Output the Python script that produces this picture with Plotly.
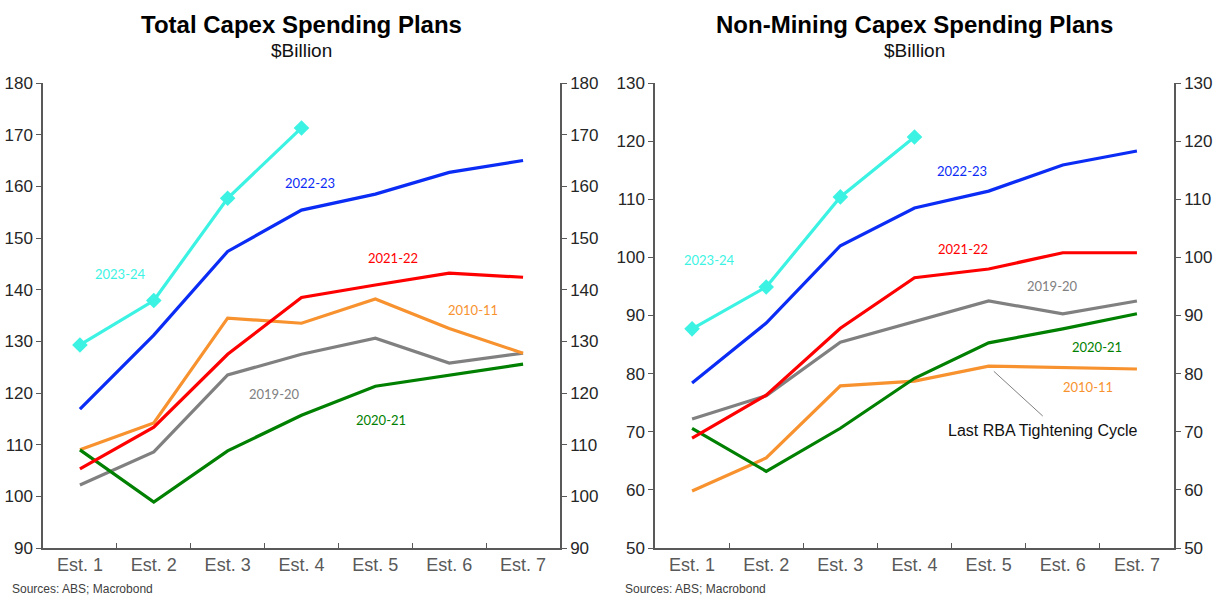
import plotly.graph_objects as go

categories = ["Est. 1", "Est. 2", "Est. 3", "Est. 4", "Est. 5", "Est. 6", "Est. 7"]

# Total capex ($bn)
total_2023_24 = [129.3, 137.9, 157.7, 171.3]
total_2022_23 = [116.9, 131.2, 147.4, 155.4, 158.5, 162.7, 165.0]
total_2021_22 = [105.3, 113.4, 127.5, 138.5, 140.9, 143.2, 142.4]
total_2010_11 = [109.0, 114.2, 134.5, 133.5, 138.2, 132.5, 127.7]
total_2019_20 = [102.2, 108.6, 123.5, 127.5, 130.6, 125.8, 127.7]
total_2020_21 = [109.0, 98.9, 108.8, 115.7, 121.3, 123.5, 125.6]

# Non-mining capex ($bn)
nm_2023_24 = [87.7, 94.9, 110.4, 120.7]
nm_2022_23 = [78.4, 88.7, 102.0, 108.5, 111.4, 115.9, 118.3]
nm_2021_22 = [68.9, 76.3, 87.8, 96.5, 98.0, 100.8, 100.8]
nm_2019_20 = [72.2, 76.2, 85.4, 88.9, 92.5, 90.3, 92.5]
nm_2020_21 = [70.6, 63.2, 70.6, 79.2, 85.3, 87.7, 90.3]
nm_2010_11 = [59.8, 65.5, 77.9, 78.7, 81.3, 81.1, 80.8]

colors = {
    "2023-24": "#3CF3E3",
    "2022-23": "#0A2CF5",
    "2021-22": "#FF0000",
    "2010-11": "#F7922F",
    "2019-20": "#808080",
    "2020-21": "#008000",
}

left_series = [("2019-20", total_2019_20), ("2010-11", total_2010_11), ("2020-21", total_2020_21),
               ("2021-22", total_2021_22), ("2022-23", total_2022_23), ("2023-24", total_2023_24)]
right_series = [("2019-20", nm_2019_20), ("2010-11", nm_2010_11), ("2020-21", nm_2020_21),
                ("2021-22", nm_2021_22), ("2022-23", nm_2022_23), ("2023-24", nm_2023_24)]

fig = go.Figure()

for xa, ya, series in [("x", "y", left_series), ("x2", "y2", right_series)]:
    for name, vals in series:
        cyan = name == "2023-24"
        fig.add_trace(go.Scatter(
            x=categories[:len(vals)], y=vals, xaxis=xa, yaxis=ya,
            mode="lines+markers" if cyan else "lines",
            line=dict(color=colors[name], width=3.2),
            marker=dict(symbol="diamond", size=12, color=colors[name]) if cyan else None,
            name=name, showlegend=False, hoverinfo="skip"))

# invisible traces to activate right-side mirror axes
fig.add_trace(go.Scatter(x=categories, y=[None]*7, xaxis="x", yaxis="y3", showlegend=False, hoverinfo="skip"))
fig.add_trace(go.Scatter(x=categories, y=[None]*7, xaxis="x2", yaxis="y4", showlegend=False, hoverinfo="skip"))

W, H = 1216, 596
dl = [43 / W, 560 / W]
dr = [655 / W, 1174 / W]
dy = [1 - 548 / H, 1 - 83 / H]

axcol = "#595959"
tickfont_y = dict(family="Liberation Sans, Arial", size=17, color="#262626")
tickfont_x = dict(family="Liberation Sans, Arial", size=18, color="#595959")

xcommon = dict(type="category", range=[-0.5, 6.5], showgrid=False, zeroline=False,
               showline=True, linecolor=axcol, linewidth=1.5, ticks="inside", tickson="boundaries",
               ticklen=5, tickcolor=axcol, tickfont=tickfont_x, fixedrange=True)
ycommon = dict(showgrid=False, zeroline=False, showline=True, linecolor=axcol, linewidth=1.5,
               ticks="outside", ticklen=5, tickcolor=axcol, tickfont=tickfont_y, dtick=10)

fig.update_layout(
    width=W, height=H, margin=dict(l=0, r=0, t=0, b=0, autoexpand=False),
    paper_bgcolor="white", plot_bgcolor="white", showlegend=False,
    xaxis=dict(domain=dl, anchor="y", **xcommon),
    xaxis2=dict(domain=dr, anchor="y2", **xcommon),
    yaxis=dict(domain=dy, anchor="x", range=[90, 180], side="left", **ycommon),
    yaxis2=dict(domain=dy, anchor="x2", range=[50, 130], side="left", **ycommon),
    yaxis3=dict(domain=dy, anchor="x", overlaying="y", range=[90, 180], side="right", **ycommon),
    yaxis4=dict(domain=dy, anchor="x2", overlaying="y2", range=[50, 130], side="right", **ycommon),
)

lab_font = "Lato, Carlito, sans-serif"
labels_left = [("2023-24", 0.55, 143.0), ("2022-23", 3.11, 160.6), ("2021-22", 4.24, 146.1),
               ("2010-11", 5.32, 136.0), ("2019-20", 2.64, 119.8), ("2020-21", 4.07, 114.8)]
labels_right = [("2023-24", 0.23, 99.5), ("2022-23", 3.64, 114.9), ("2021-22", 3.66, 101.4),
                ("2019-20", 4.86, 95.1), ("2020-21", 5.46, 84.6), ("2010-11", 5.34, 77.7)]

for name, xi, yv in labels_left:
    fig.add_annotation(x=xi, y=yv, xref="x", yref="y", text=name, showarrow=False,
                       xanchor="center", yanchor="middle",
                       font=dict(family=lab_font, size=13, color=colors[name]))
for name, xi, yv in labels_right:
    fig.add_annotation(x=xi, y=yv, xref="x2", yref="y2", text=name, showarrow=False,
                       xanchor="center", yanchor="middle",
                       font=dict(family=lab_font, size=13, color=colors[name]))

fig.add_annotation(x=4.73, y=70.3, xref="x2", yref="y2", text="Last RBA Tightening Cycle",
                   showarrow=False, xanchor="center", yanchor="middle",
                   font=dict(family="Liberation Sans, Arial", size=16, color="#111111"))
fig.add_shape(type="line", xref="x2", yref="y2", x0=4.07, y0=80.4, x1=4.73, y1=72.7,
              line=dict(color="#808080", width=1))

for cx, title in [((dl[0] + dl[1]) / 2, "Total Capex Spending Plans"),
                  ((dr[0] + dr[1]) / 2, "Non-Mining Capex Spending Plans")]:
    fig.add_annotation(x=cx, y=1 - 25 / H, xref="paper", yref="paper", text="<b>" + title + "</b>",
                       showarrow=False, xanchor="center", yanchor="middle",
                       font=dict(family="Liberation Sans, Arial", size=24, color="#000000"))
    fig.add_annotation(x=cx, y=1 - 51 / H, xref="paper", yref="paper", text="$Billion",
                       showarrow=False, xanchor="center", yanchor="middle",
                       font=dict(family="Liberation Sans, Arial", size=19, color="#111111"))

for sx in [10 / W, 623 / W]:
    fig.add_annotation(x=sx, y=1 - 589 / H, xref="paper", yref="paper", text="Sources: ABS; Macrobond",
                       showarrow=False, xanchor="left", yanchor="middle",
                       font=dict(family="Liberation Sans, Arial", size=12, color="#404040"))

fig.write_html("out.html", config={"displayModeBar": False},
               post_script="document.body.style.margin='0';document.body.style.overflow='hidden';"
                           "document.documentElement.style.overflow='hidden';")
